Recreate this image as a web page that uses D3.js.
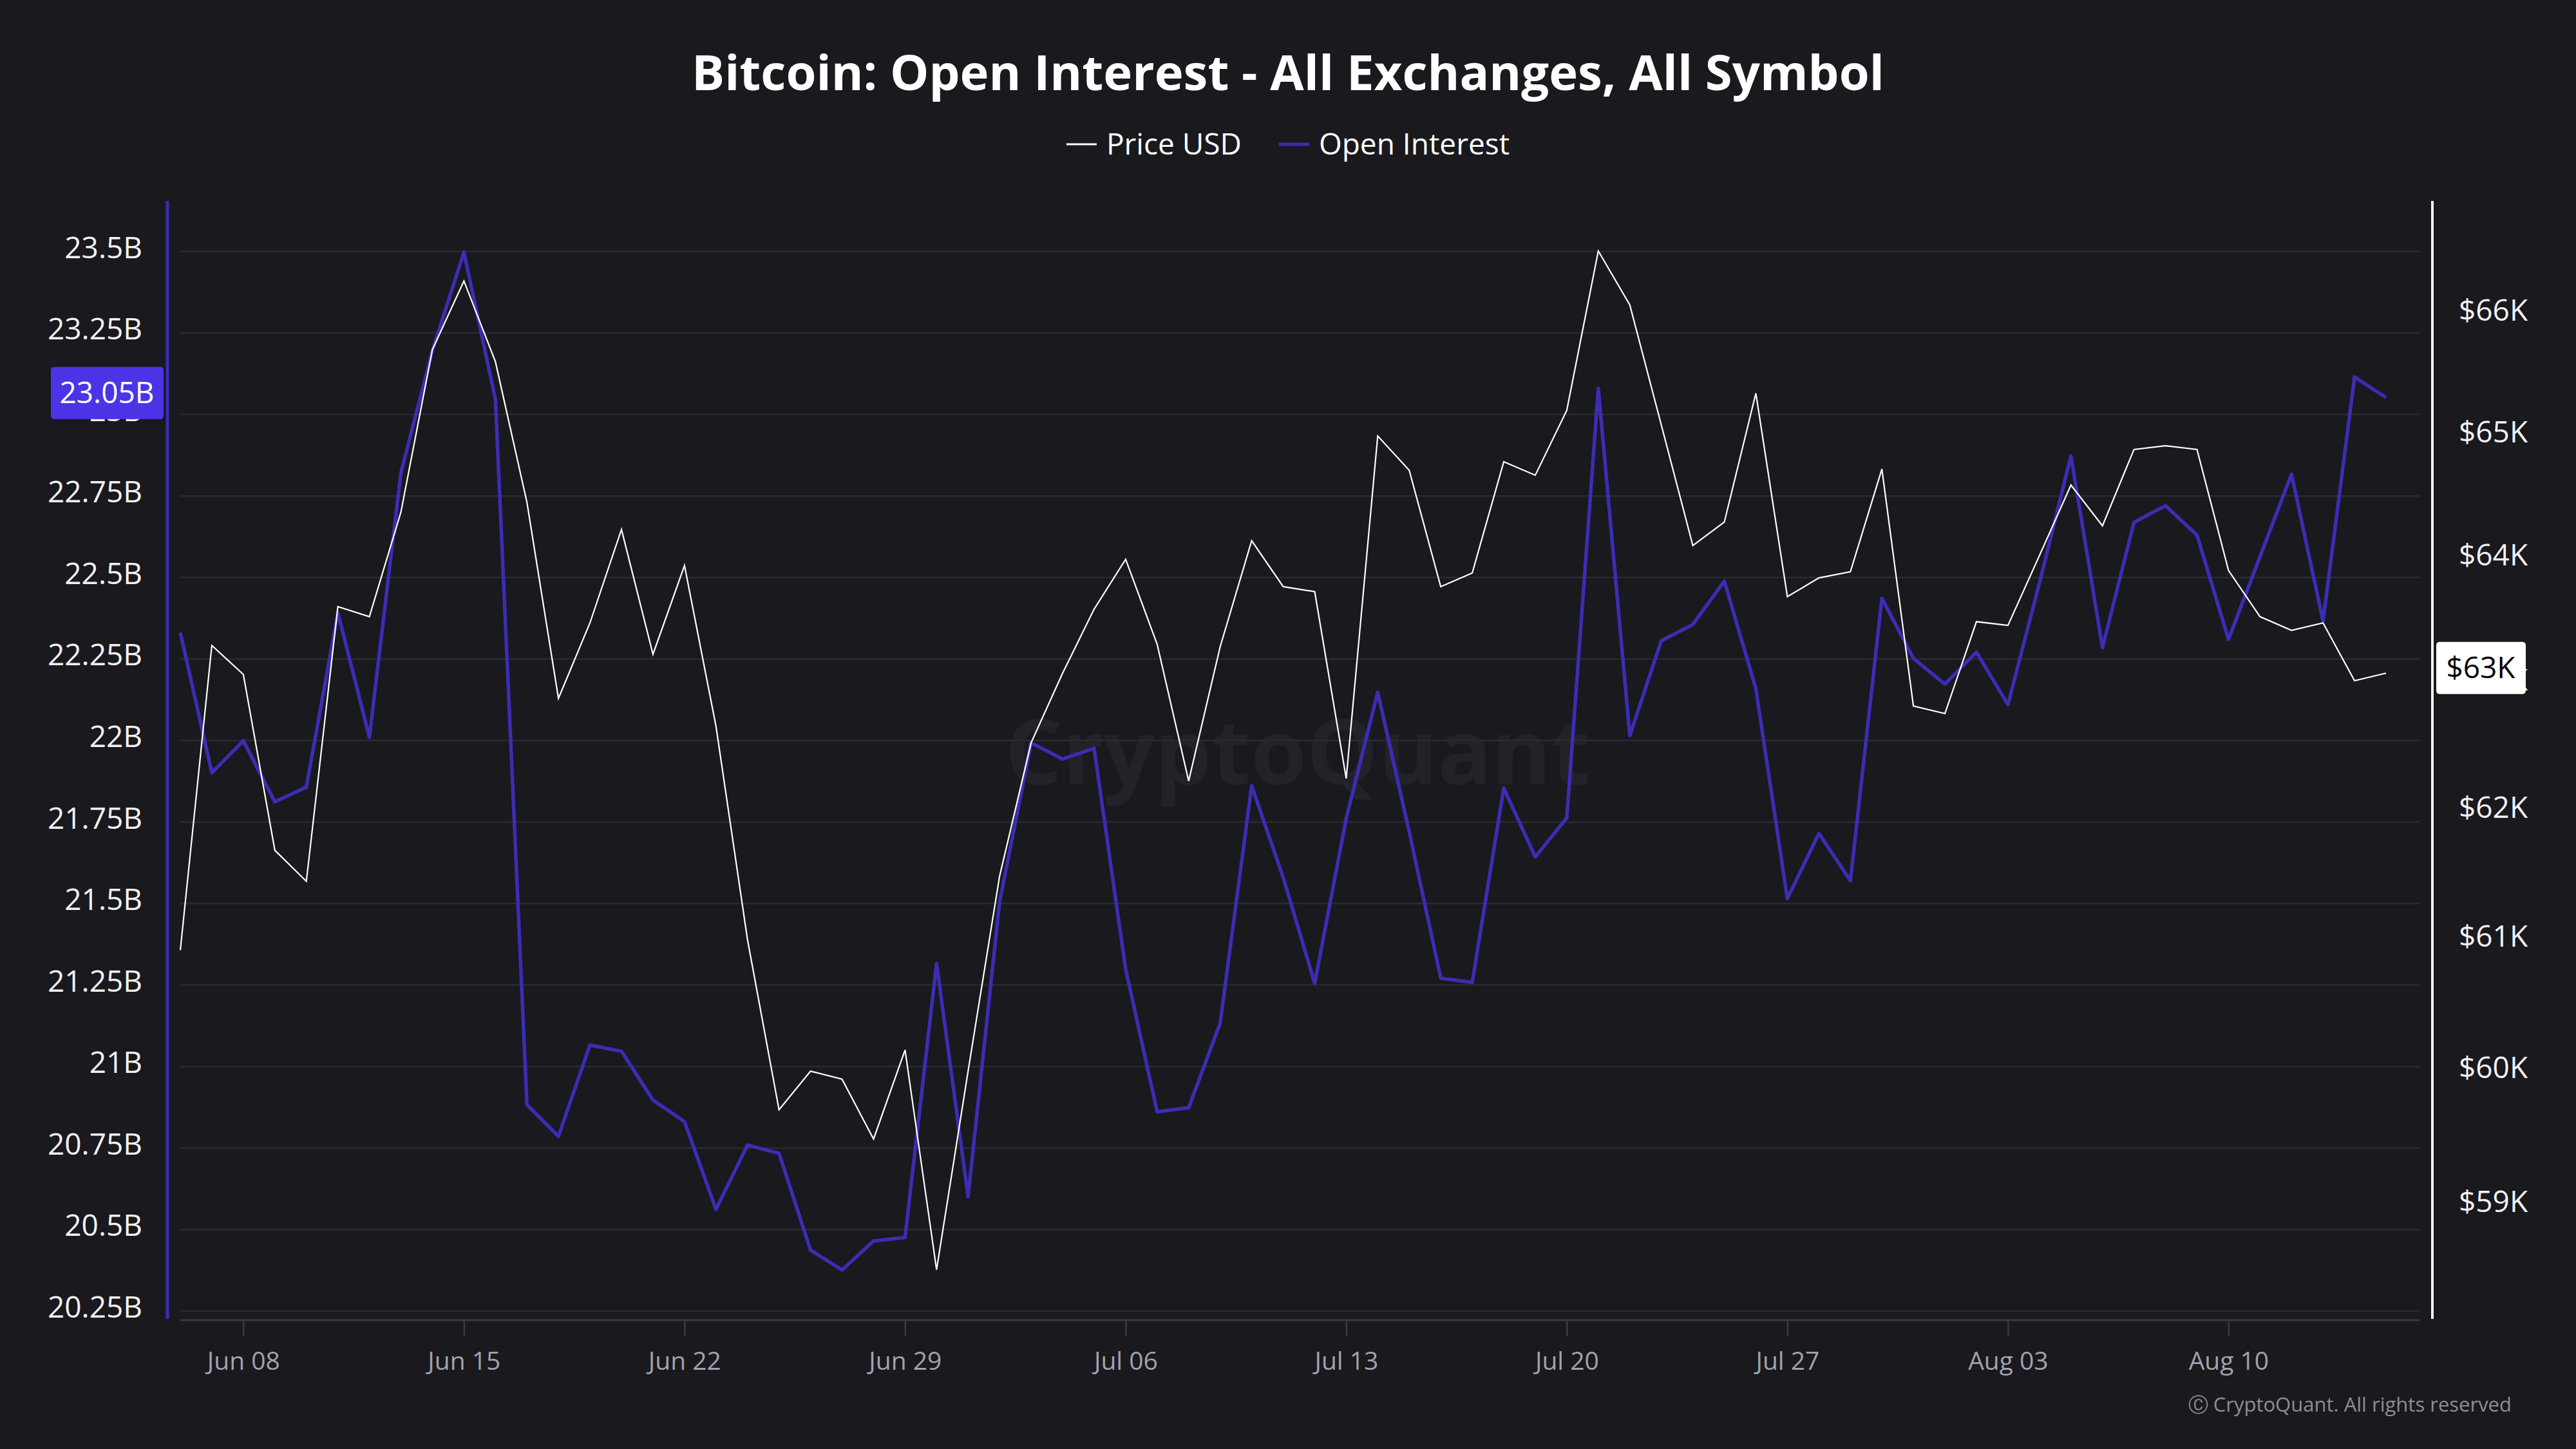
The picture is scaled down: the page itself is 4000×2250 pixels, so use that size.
<!DOCTYPE html>
<html>
<head>
<meta charset="utf-8">
<script src="https://cdn.jsdelivr.net/npm/d3@7"></script>
<style>
  body { margin: 0; background: #19191e; }
  text { font-family: "Open Sans", "Noto Sans", sans-serif; }
</style>
</head>
<body>
<div id="chart"></div>
<script>
var width = 4000;
var height = 2250;

// daily points, Jun 06 -> Aug 15
var startDay = new Date(Date.UTC(2024, 5, 6));
var endDay = new Date(Date.UTC(2024, 7, 16));

// open interest, billions USD
var openInterest = [
    22.331, 21.901, 21.999, 21.812, 21.857, 22.392, 22.010, 22.821, 23.196, 23.498,
    23.046, 20.883, 20.786, 21.066, 21.047, 20.897, 20.831, 20.562, 20.759, 20.734,
    20.437, 20.376, 20.465, 20.476, 21.316, 20.601, 21.505, 21.993, 21.943, 21.976,
    21.299, 20.861, 20.874, 21.133, 21.861, 21.580, 21.255, 21.761, 22.148, 21.720,
    21.271, 21.258, 21.854, 21.643, 21.763, 23.080, 22.015, 22.306, 22.356, 22.489,
    22.159, 21.515, 21.715, 21.570, 22.436, 22.252, 22.173, 22.271, 22.110, 22.483,
    22.873, 22.285, 22.669, 22.720, 22.630, 22.310, 22.564, 22.817, 22.366, 23.115,
    23.052
];

// BTC price, USD
var priceUsd = [
    60900, 63280, 63050, 61670, 61430, 63590, 63510, 64350, 65680, 66250,
    65580, 64430, 62860, 63460, 64210, 63210, 63920, 62640, 60980, 59690,
    59980, 59920, 59470, 60140, 58500, 59980, 61470, 62510, 63060, 63570,
    63970, 63290, 62210, 63270, 64120, 63750, 63710, 62230, 64970, 64690,
    63750, 63860, 64760, 64650, 65180, 66500, 66050, 65060, 64080, 64270,
    65320, 63670, 63820, 63870, 64700, 62800, 62740, 63470, 63440, 64000,
    64570, 64240, 64860, 64890, 64860, 63880, 63510, 63400, 63460, 63000,
    63060
];

var oiTicks = [20.25, 20.5, 20.75, 21, 21.25, 21.5, 21.75, 22, 22.25, 22.5, 22.75, 23, 23.25, 23.5];
var priceTicks = [59000, 60000, 61000, 62000, 63000, 64000, 65000, 66000];
var dateTicks = ["2024-06-08", "2024-06-15", "2024-06-22", "2024-06-29", "2024-07-06",
                 "2024-07-13", "2024-07-20", "2024-07-27", "2024-08-03", "2024-08-10"];

var oiColor = "#3b2db4";
var gridColor = "#2a2a31";

// plot box (window.top is read-only, so no "top" here)
var plotLeft = 280, plotRight = 3754, plotTop = 312, plotBottom = 2050;

var days = d3.utcDay.range(startDay, d3.utcDay.offset(startDay, openInterest.length));

var xScale = d3.scaleUtc()
    .domain([startDay, endDay])
    .range([plotLeft, plotRight]);

var yOI = d3.scaleLinear()
    .domain([20.222, 23.655])
    .range([plotBottom, plotTop]);

var yPrice = d3.scaleLog()
    .domain([58130, 66920])
    .range([plotBottom, plotTop]);

var svg = d3.select("#chart")
    .append("svg")
    .attr("width", width)
    .attr("height", height)
    .style("display", "block");

svg.append("rect")
    .attr("width", width)
    .attr("height", height)
    .attr("fill", "#19191e");

// title + legend
svg.append("text")
    .attr("x", width / 2)
    .attr("y", 140)
    .attr("text-anchor", "middle")
    .attr("fill", "#ffffff")
    .attr("font-size", 76)
    .attr("font-weight", 700)
    .text("Bitcoin: Open Interest - All Exchanges, All Symbol");

var legend = svg.append("g");
var legendItems = [
    {label: "Price USD", color: "#ffffff", w: 3},
    {label: "Open Interest", color: oiColor, w: 5}
];
var lx = 0;
legendItems.forEach(function(item) {
    var g = legend.append("g").attr("transform", "translate(" + lx + ",0)");
    g.append("line")
        .attr("x1", 0).attr("x2", 47)
        .attr("y1", 0).attr("y2", 0)
        .attr("stroke", item.color)
        .attr("stroke-width", item.w);
    var t = g.append("text")
        .attr("x", 62)
        .attr("y", 16)
        .attr("fill", "#ffffff")
        .attr("font-size", 46)
        .text(item.label);
    lx += 62 + t.node().getComputedTextLength() + 58;
});
var legendW = lx - 58;
legend.attr("transform", "translate(" + (width / 2 - legendW / 2) + ",224)");

// watermark
svg.append("text")
    .attr("x", 2015)
    .attr("y", 1218)
    .attr("text-anchor", "middle")
    .attr("fill", "#222228")
    .attr("font-size", 140)
    .attr("font-weight", 700)
    .text("CryptoQuant");

// horizontal grid
svg.append("g")
    .selectAll("line")
    .data(oiTicks)
    .enter()
    .append("line")
    .attr("x1", plotLeft)
    .attr("x2", plotRight + 3)
    .attr("y1", function(d) { return yOI(d); })
    .attr("y2", function(d) { return yOI(d); })
    .attr("stroke", gridColor)
    .attr("stroke-width", 2.5);

// x axis
var xAxis = d3.axisBottom(xScale)
    .tickValues(dateTicks.map(function(s) { return new Date(s + "T00:00:00Z"); }))
    .tickFormat(d3.utcFormat("%b %d"))
    .tickSize(25)
    .tickPadding(24);

var gx = svg.append("g")
    .attr("transform", "translate(0," + plotBottom + ")")
    .call(xAxis);
gx.select(".domain").remove();
gx.selectAll(".tick line").attr("stroke", "#3a3a43").attr("stroke-width", 2.5);
gx.selectAll(".tick text")
    .attr("fill", "#a2a2ad")
    .attr("font-size", 39)
    .attr("font-family", "Open Sans, sans-serif");
svg.append("line")
    .attr("x1", plotLeft).attr("x2", plotRight + 3)
    .attr("y1", plotBottom).attr("y2", plotBottom)
    .attr("stroke", "#3a3a43")
    .attr("stroke-width", 3);

// left axis (open interest)
var yAxisL = d3.axisLeft(yOI)
    .tickValues(oiTicks)
    .tickFormat(function(d) { return (+d.toFixed(2)) + "B"; })
    .tickSize(0)
    .tickPadding(39);
var gl = svg.append("g")
    .attr("transform", "translate(260,0)")
    .call(yAxisL);
gl.select(".domain").remove();
gl.selectAll(".tick text")
    .attr("dy", "0.21em")
    .attr("fill", "#f2f2f4")
    .attr("font-size", 46)
    .attr("font-family", "Open Sans, sans-serif");
svg.append("line")
    .attr("x1", 260).attr("x2", 260)
    .attr("y1", plotTop).attr("y2", plotBottom - 2)
    .attr("stroke", oiColor)
    .attr("stroke-width", 5);

// right axis (price, log)
var yAxisR = d3.axisRight(yPrice)
    .tickValues(priceTicks)
    .tickFormat(function(d) { return "$" + (d / 1000) + "K"; })
    .tickSize(0)
    .tickPadding(41);
var gr = svg.append("g")
    .attr("transform", "translate(3777,0)")
    .call(yAxisR);
gr.select(".domain").remove();
gr.selectAll(".tick text")
    .attr("fill", "#f2f2f4")
    .attr("font-size", 46)
    .attr("font-family", "Open Sans, sans-serif");
svg.append("line")
    .attr("x1", 3777).attr("x2", 3777)
    .attr("y1", plotTop).attr("y2", plotBottom - 2)
    .attr("stroke", "#f4f4f8")
    .attr("stroke-width", 4);

// series lines
var oiLine = d3.line()
    .x(function(d, i) { return xScale(days[i]); })
    .y(function(d) { return yOI(d); });

var priceLine = d3.line()
    .x(function(d, i) { return xScale(days[i]); })
    .y(function(d) { return yPrice(d); });

svg.append("path")
    .datum(openInterest)
    .attr("d", oiLine)
    .attr("fill", "none")
    .attr("stroke", oiColor)
    .attr("stroke-width", 5.5)
    .attr("stroke-linejoin", "round");

svg.append("path")
    .datum(priceUsd)
    .attr("d", priceLine)
    .attr("fill", "none")
    .attr("stroke", "#ffffff")
    .attr("stroke-width", 2.2)
    .attr("stroke-linejoin", "miter");

// last value badges
var lastOI = openInterest[openInterest.length - 1];
var lastPrice = priceUsd[priceUsd.length - 1];

var yl = yOI(lastOI) - 7;
svg.append("rect")
    .attr("x", 79).attr("y", yl - 40.5)
    .attr("width", 175).attr("height", 81)
    .attr("rx", 5)
    .attr("fill", "#4b34e6");
svg.append("text")
    .attr("x", 166).attr("y", yl)
    .attr("dy", "0.35em")
    .attr("text-anchor", "middle")
    .attr("fill", "#ffffff")
    .attr("font-size", 46)
    .text(lastOI.toFixed(2) + "B");

var yr = yPrice(lastPrice) - 8;
svg.append("rect")
    .attr("x", 3783).attr("y", yr - 40.5)
    .attr("width", 139).attr("height", 81)
    .attr("rx", 5)
    .attr("fill", "#ffffff");
svg.append("text")
    .attr("x", 3852).attr("y", yr)
    .attr("dy", "0.35em")
    .attr("text-anchor", "middle")
    .attr("fill", "#000000")
    .attr("font-size", 46)
    .text("$" + Math.round(lastPrice / 1000) + "K");

// footer
svg.append("text")
    .attr("x", 3900)
    .attr("y", 2192)
    .attr("text-anchor", "end")
    .attr("fill", "#8d8d97")
    .attr("font-size", 31)
    .text("\u24b8 CryptoQuant. All rights reserved");
</script>
</body>
</html>
